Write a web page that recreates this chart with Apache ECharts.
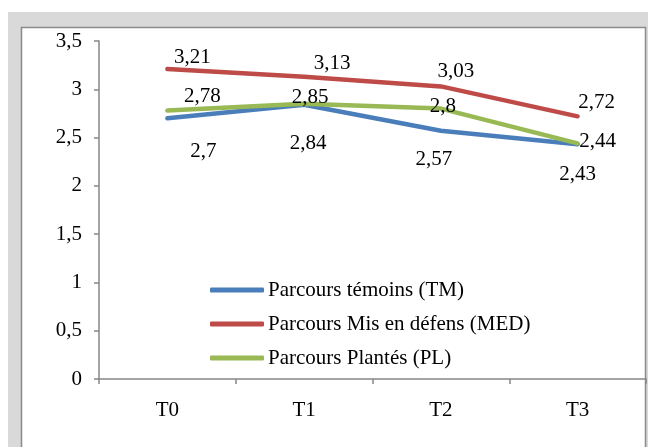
<!DOCTYPE html>
<html>
<head>
<meta charset="utf-8">
<script src="https://cdn.jsdelivr.net/npm/echarts@6/dist/echarts.min.js"></script>
<style>
  html, body { margin: 0; padding: 0; background: #ffffff; }
  #chart { width: 648px; height: 447px; }
</style>
</head>
<body>
<div id="chart"></div>
<script>
// Time points and the three rangeland treatments
const periods = ['T0', 'T1', 'T2', 'T3'];
const seriesNames = ['Parcours témoins (TM)', 'Parcours Mis en défens (MED)', 'Parcours Plantés (PL)'];
const valuesTM = [2.7, 2.84, 2.57, 2.43];
const valuesMED = [3.21, 3.13, 3.03, 2.72];
const valuesPL = [2.78, 2.85, 2.8, 2.44];
const yTicks = [0, 0.5, 1, 1.5, 2, 2.5, 3, 3.5];

// Label nudges (pixels) so value labels do not sit on the lines
const shiftTM = [[36, 33], [4, 39], [-7, 29], [0, 30]];
const shiftMED = [[25, -12], [28, -13], [15, -15], [19, -14]];
const shiftPL = [[35, -14], [6, -6], [2, -2], [20, -2]];

const FONT = "'Liberation Serif', 'Times New Roman', serif";
const fmt = v => String(v).replace('.', ',');

function makeSeries(name, values, color, shifts) {
  return {
    name: name,
    type: 'line',
    data: values.map((v, i) => ({
      value: v,
      label: { offset: shifts[i] }
    })),
    showSymbol: true,
    symbol: 'circle',
    symbolSize: 0.01,
    lineStyle: { color: color, width: 4.5, cap: 'round', join: 'round' },
    itemStyle: { color: color },
    label: {
      show: true,
      position: 'inside',
      align: 'center',
      verticalAlign: 'middle',
      fontFamily: FONT,
      fontSize: 21,
      color: '#000',
      formatter: p => fmt(p.value)
    },
    z: 3
  };
}

const chart = echarts.init(document.getElementById('chart'), null, { renderer: 'canvas' });
chart.setOption({
  animation: false,
  backgroundColor: 'transparent',
  textStyle: { fontFamily: FONT },
  graphic: [
    { type: 'rect', z: -10, shape: { x: 8, y: 12, width: 650, height: 450 },
      style: { fill: '#d9d9d9' } },
    { type: 'rect', z: -9, shape: { x: 21.5, y: 27.5, width: 624, height: 440 },
      style: { fill: '#ffffff', stroke: '#8a8a8a', lineWidth: 1.5 } }
  ],
  grid: { left: 99, right: 2, top: 41, bottom: 68 },
  legend: {
    orient: 'vertical',
    left: 205,
    top: 273,
    data: seriesNames,
    icon: 'roundRect',
    itemWidth: 54,
    itemHeight: 5,
    itemGap: 10,
    textStyle: { fontFamily: FONT, fontSize: 21, color: '#000', lineHeight: 24, padding: [0, 0, 0, -1] }
  },
  xAxis: {
    type: 'category',
    data: periods,
    boundaryGap: true,
    axisLine: { lineStyle: { color: '#868686', width: 1.5 } },
    axisTick: { show: true, length: 5, lineStyle: { color: '#868686', width: 1.5 } },
    axisLabel: { fontFamily: FONT, fontSize: 21, color: '#000', margin: 21 },
    splitLine: { show: false }
  },
  yAxis: {
    type: 'value',
    min: yTicks[0],
    max: yTicks[yTicks.length - 1],
    interval: yTicks[1] - yTicks[0],
    axisLine: { show: true, lineStyle: { color: '#868686', width: 1.5 } },
    axisTick: { show: true, length: 5, lineStyle: { color: '#868686', width: 1.5 } },
    axisLabel: { fontFamily: FONT, fontSize: 21, color: '#000', margin: 17, formatter: v => fmt(v) },
    splitLine: { show: false }
  },
  series: [
    makeSeries(seriesNames[0], valuesTM, '#4a7ebb', shiftTM),
    makeSeries(seriesNames[1], valuesMED, '#be4b48', shiftMED),
    makeSeries(seriesNames[2], valuesPL, '#98b954', shiftPL)
  ]
});
</script>
</body>
</html>
